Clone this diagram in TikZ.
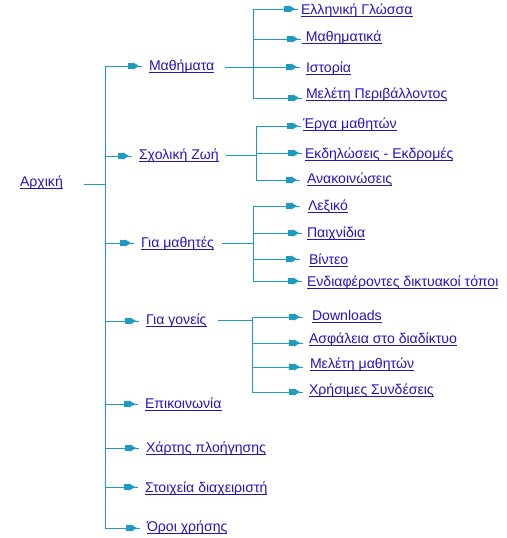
\documentclass[tikz,border=0pt]{standalone}
\usepackage{fontspec}
\setmainfont{Liberation Sans}
\usetikzlibrary{arrows.meta,positioning,calc,decorations.markings}
\definecolor{lnkblue}{RGB}{38,20,190}
\definecolor{treeteal}{RGB}{30,155,192}
\newsavebox{\lnkbox}
\newcommand{\lnk}[1]{\sbox{\lnkbox}{#1}\rlap{\rule[-2.8pt]{\wd\lnkbox}{0.8pt}}\usebox{\lnkbox}}
\tikzset{
  page/.style={anchor=base west, inner sep=0pt, outer sep=0pt, text=lnkblue, font=\fontsize{14.1}{16}\selectfont},
  branch/.style={draw=treeteal, line width=0.9pt},
  arr/.style={branch, shorten >=#1, postaction={decorate},
    decoration={markings, mark=at position -#1-3pt with {\arrow[treeteal]{Rectangle[length=5pt,width=5.5pt]Triangle[length=6pt,width=7pt]}}}},
  arr/.default=7pt
}
\begin{document}
\begin{tikzpicture}[x=1pt, y=-1pt, line join=round]
\useasboundingbox (0,0) rectangle (506,538);
\coordinate (ttop) at (105,66);
\coordinate (tbot) at (105,528);
\coordinate (troot) at (105,184);
\node[page] (home) at (20,186) {\lnk{Αρχική}};
\node[page] (mat) at (149,70) {\lnk{Μαθήματα}};
\node[page] (sch) at (139,159) {\lnk{Σχολική Ζωή}};
\node[page] (mth) at (141,247) {\lnk{Για μαθητές}};
\node[page] (gon) at (146,324) {\lnk{Για γονείς}};
\node[page] (epi) at (145,408) {\lnk{Επικοινωνία}};
\node[page] (xar) at (146,452) {\lnk{Χάρτης πλοήγησης}};
\node[page] (sto) at (145,492) {\lnk{Στοιχεία διαχειριστή}};
\node[page] (oro) at (147,531) {\lnk{Όροι χρήσης}};
\coordinate (t1) at (105,66);
\coordinate (t2) at (105,156);
\coordinate (t3) at (105,243);
\coordinate (t4) at (105,321);
\coordinate (t5) at (105,404);
\coordinate (t6) at (105,448);
\coordinate (t7) at (105,487);
\coordinate (t8) at (105,528);
\draw[branch] (ttop) -- (tbot);
\draw[branch, shorten <=21pt] (home.east |- troot) -- (troot);
\draw[arr] (t1) -- (t1 -| mat.west);
\draw[arr] (t2) -- (t2 -| sch.west);
\draw[arr] (t3) -- (t3 -| mth.west);
\draw[arr] (t4) -- (t4 -| gon.west);
\draw[arr] (t5) -- (t5 -| epi.west);
\draw[arr] (t6) -- (t6 -| xar.west);
\draw[arr] (t7) -- (t7 -| sto.west);
\draw[arr] (t8) -- (t8 -| oro.west);
\node[page] (gl) at (301,14) {\lnk{Ελληνική Γλώσσα}};
\node[page] (mk) at (302,41) {\lnk{\ Μαθηματικά}};
\node[page] (ist) at (306,72) {\lnk{Ιστορία}};
\node[page] (mel) at (306,98) {\lnk{Μελέτη Περιβάλλοντος}};
\coordinate (mb) at (253,67);
\coordinate (m1) at (253,9);
\coordinate (m2) at (253,39);
\coordinate (m3) at (253,67);
\coordinate (m4) at (253,98);
\draw[branch, shorten <=11pt] (mat.east |- mb) -- (mb);
\draw[branch] (m1) -- (m4);
\draw[arr=3pt] (m1) -- (m1 -| gl.west);
\draw[arr=1pt] (m2) -- (m2 -| mk.west);
\draw[arr=6pt] (m3) -- (m3 -| ist.west);
\draw[arr=4pt] (m4) -- (m4 -| mel.west);
\node[page] (erg) at (303,128) {\lnk{Έργα μαθητών}};
\node[page] (ekd) at (305,158) {\lnk{Εκδηλώσεις - Εκδρομές}};
\node[page] (ana) at (307,183) {\lnk{Ανακοινώσεις}};
\coordinate (sb) at (256,155);
\coordinate (s1) at (256,126);
\coordinate (s2) at (256,153);
\coordinate (s3) at (256,180);
\draw[branch, shorten <=7pt] (sch.east |- sb) -- (sb);
\draw[branch] (s1) -- (s3);
\draw[arr=2pt] (s1) -- (s1 -| erg.west);
\draw[arr=3pt] (s2) -- (s2 -| ekd.west);
\draw[arr=7pt] (s3) -- (s3 -| ana.west);
\node[page] (lex) at (308,210) {\lnk{Λεξικό}};
\node[page] (pai) at (307,237) {\lnk{Παιχνίδια}};
\node[page] (vid) at (309,264) {\lnk{Βίντεο}};
\node[page] (ist2) at (307,286) {\lnk{Ενδιαφέροντες δικτυακοί τόποι}};
\coordinate (ub) at (253,243);
\coordinate (u1) at (253,206);
\coordinate (u2) at (253,233);
\coordinate (u3) at (253,259);
\coordinate (u4) at (253,281);
\draw[branch, shorten <=8pt] (mth.east |- ub) -- (ub);
\draw[branch] (u1) -- (u4);
\draw[arr=8pt] (u1) -- (u1 -| lex.west);
\draw[arr=5pt] (u2) -- (u2 -| pai.west);
\draw[arr=9pt] (u3) -- (u3 -| vid.west);
\draw[arr=5pt] (u4) -- (u4 -| ist2.west);
\node[page] (dow) at (312,320) {\lnk{Downloads}};
\node[page] (asf) at (309,343) {\lnk{Ασφάλεια στο διαδίκτυο}};
\node[page] (mme) at (310,368) {\lnk{Μελέτη μαθητών}};
\node[page] (xrs) at (309,394) {\lnk{Χρήσιμες Συνδέσεις}};
\coordinate (gb) at (252,320);
\coordinate (g1) at (252,317);
\coordinate (g2) at (252,343);
\coordinate (g3) at (252,367);
\coordinate (g4) at (252,392);
\draw[branch, shorten <=11pt] (gon.east |- gb) -- (gb);
\draw[branch] (g1) -- (g4);
\draw[arr=9pt] (g1) -- (g1 -| dow.west);
\draw[arr=6pt] (g2) -- (g2 -| asf.west);
\draw[arr=7pt] (g3) -- (g3 -| mme.west);
\draw[arr=6pt] (g4) -- (g4 -| xrs.west);
\end{tikzpicture}
\end{document}
